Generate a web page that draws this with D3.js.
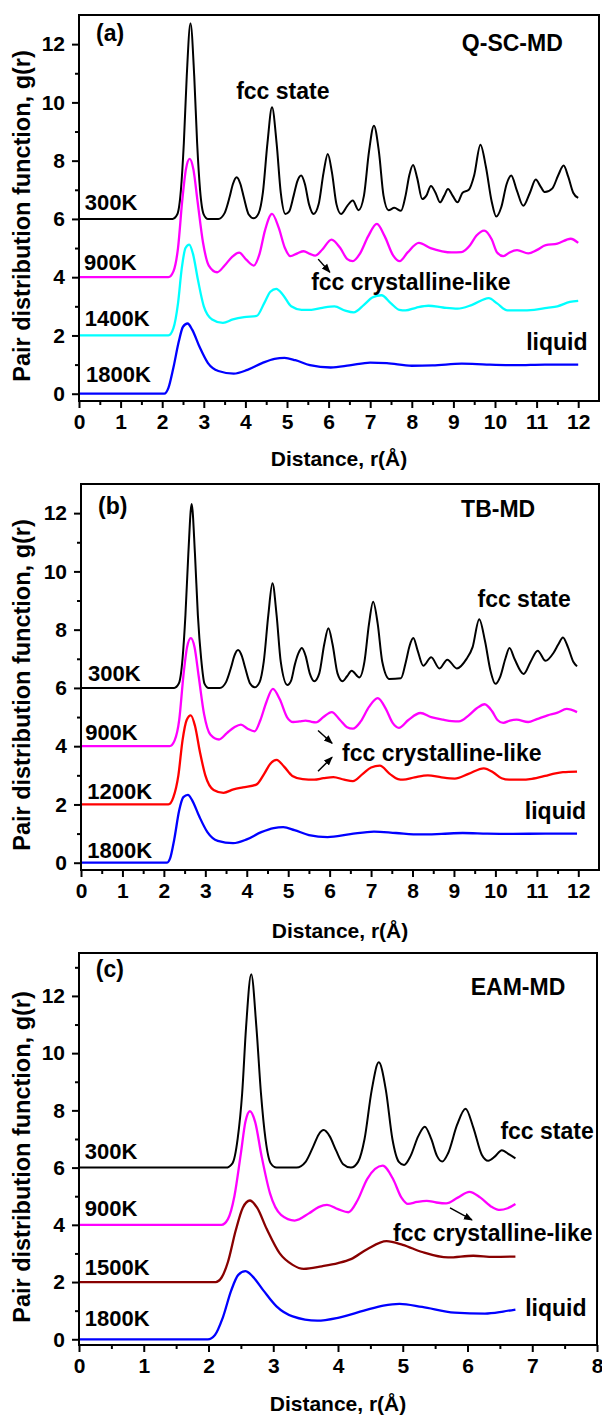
<!DOCTYPE html>
<html>
<head>
<meta charset="utf-8">
<script src="https://cdnjs.cloudflare.com/ajax/libs/d3/7.8.5/d3.min.js"></script>
<style>
  body { margin: 0; background: #fff; }
  text { font-family: "Liberation Sans", Arial, sans-serif; font-weight: bold; fill: #000; }
</style>
</head>
<body>
<script>
  // ---- data: [r (Angstrom), g(r) as plotted incl. offset] ----
  var a300 = [[0,6],[2.25,6],[2.36,6.15],[2.45,7.0],[2.52,8.6],[2.59,10.9],[2.68,12.72],[2.77,10.9],[2.84,8.6],[2.91,7.0],[3.0,6.15],[3.1,6.0],[3.35,6.0],[3.5,6.2],[3.62,6.75],[3.7,7.2],[3.79,7.43],[3.88,7.2],[3.96,6.75],[4.08,6.15],[4.2,6.02],[4.32,6.2],[4.42,6.9],[4.53,8.6],[4.64,9.83],[4.75,8.6],[4.85,6.9],[4.96,6.17],[5.05,6.25],[5.16,6.8],[5.25,7.3],[5.34,7.49],[5.43,7.2],[5.53,6.5],[5.64,6.17],[5.76,6.5],[5.88,7.6],[5.98,8.23],[6.08,7.6],[6.19,6.5],[6.3,6.17],[6.45,6.45],[6.58,6.63],[6.72,6.3],[6.85,6.8],[6.97,8.3],[7.09,9.2],[7.21,8.3],[7.32,6.8],[7.44,6.3],[7.58,6.38],[7.74,6.28],[7.85,6.8],[7.94,7.5],[8.03,7.85],[8.13,7.4],[8.25,6.68],[8.35,6.8],[8.46,7.13],[8.57,6.9],[8.68,6.57],[8.78,6.8],[8.87,7.03],[8.98,6.8],[9.1,6.57],[9.22,6.9],[9.37,7.0],[9.5,7.5],[9.65,8.55],[9.78,7.8],[9.92,6.6],[10.03,6.08],[10.15,6.4],[10.28,7.2],[10.39,7.49],[10.52,7.0],[10.68,6.45],[10.84,6.9],[10.98,7.35],[11.1,7.1],[11.2,6.92],[11.38,7.05],[11.52,7.5],[11.65,7.83],[11.76,7.45],[11.88,6.9],[12.0,6.72]];
  var a900 = [[0,4],[2.15,4],[2.27,4.2],[2.38,5.0],[2.48,6.6],[2.57,7.7],[2.66,8.06],[2.75,7.7],[2.85,6.6],[2.98,5.2],[3.12,4.4],[3.32,4.17],[3.5,4.4],[3.68,4.7],[3.85,4.84],[4.02,4.6],[4.2,4.4],[4.34,4.8],[4.47,5.6],[4.64,6.17],[4.8,5.7],[4.95,5.0],[5.08,4.72],[5.25,4.82],[5.4,4.89],[5.55,4.8],[5.68,4.74],[5.85,4.95],[6.07,5.29],[6.28,5.0],[6.45,4.62],[6.58,4.55],[6.75,4.8],[6.95,5.4],[7.16,5.83],[7.35,5.4],[7.55,4.75],[7.71,4.55],[7.9,4.85],[8.17,5.18],[8.45,5.0],[8.73,4.89],[8.95,4.85],[9.19,4.86],[9.4,5.1],[9.55,5.42],[9.74,5.6],[9.92,5.3],[10.05,4.85],[10.2,4.72],[10.35,4.85],[10.53,4.93],[10.8,4.82],[11.0,4.93],[11.22,5.1],[11.5,5.15],[11.82,5.32],[12.0,5.18]];
  var a1400 = [[0,2],[2.15,2],[2.27,2.25],[2.38,3.1],[2.47,4.3],[2.56,5.0],[2.65,5.12],[2.74,4.8],[2.86,3.9],[3.0,3.0],[3.2,2.55],[3.46,2.43],[3.7,2.55],[3.97,2.63],[4.27,2.67],[4.45,3.1],[4.6,3.5],[4.74,3.6],[4.9,3.4],[5.1,3.0],[5.35,2.88],[5.59,2.88],[5.85,2.95],[6.14,3.0],[6.4,2.85],[6.6,2.79],[6.85,3.05],[7.05,3.3],[7.27,3.38],[7.5,3.1],[7.7,2.88],[7.85,2.86],[8.1,2.95],[8.4,3.02],[8.75,2.96],[9.1,2.92],[9.45,3.05],[9.85,3.28],[10.05,3.1],[10.3,2.86],[10.6,2.86],[10.94,2.88],[11.25,2.95],[11.5,3.0],[11.8,3.15],[12.0,3.19]];
  var a1800 = [[0,0],[2.05,0],[2.15,0.2],[2.27,0.9],[2.4,1.8],[2.5,2.3],[2.61,2.41],[2.72,2.2],[2.9,1.6],[3.1,1.05],[3.35,0.78],[3.72,0.69],[4.05,0.82],[4.4,1.05],[4.7,1.2],[4.94,1.23],[5.2,1.15],[5.55,0.98],[6.05,0.9],[6.5,0.97],[7.0,1.07],[7.4,1.05],[8.0,0.96],[8.5,0.97],[9.2,1.03],[9.8,1.0],[10.5,0.98],[11.2,1.0],[12.0,1.0]];

  var b300 = [[0,6],[2.25,6],[2.36,6.15],[2.45,7.0],[2.52,8.5],[2.59,10.6],[2.67,12.31],[2.75,10.6],[2.82,8.5],[2.9,7.0],[2.98,6.15],[3.08,6.0],[3.35,6.0],[3.5,6.2],[3.62,6.7],[3.7,7.1],[3.79,7.3],[3.88,7.1],[3.96,6.7],[4.08,6.15],[4.19,6.02],[4.31,6.2],[4.41,6.9],[4.52,8.5],[4.62,9.59],[4.72,8.5],[4.82,6.9],[4.98,6.1],[5.07,6.25],[5.16,6.8],[5.25,7.2],[5.33,7.37],[5.42,7.1],[5.52,6.5],[5.63,6.23],[5.75,6.5],[5.87,7.5],[5.97,8.05],[6.07,7.5],[6.19,6.5],[6.31,6.23],[6.42,6.4],[6.53,6.59],[6.72,6.36],[6.84,6.9],[6.95,8.2],[7.05,8.96],[7.16,8.2],[7.27,6.9],[7.44,6.31],[7.72,6.33],[7.84,6.9],[7.93,7.45],[8.02,7.71],[8.12,7.3],[8.26,6.76],[8.45,7.05],[8.65,6.67],[8.84,6.97],[9.07,6.67],[9.3,6.99],[9.45,7.4],[9.61,8.36],[9.75,7.6],[9.88,6.6],[10.0,6.14],[10.12,6.4],[10.24,7.0],[10.34,7.37],[10.46,7.0],[10.68,6.48],[10.85,6.9],[11.02,7.28],[11.21,6.93],[11.4,7.2],[11.52,7.5],[11.63,7.73],[11.75,7.4],[11.88,6.9],[11.97,6.74]];
  var b900 = [[0,4],[2.14,4],[2.26,4.2],[2.37,4.9],[2.47,6.4],[2.56,7.4],[2.65,7.71],[2.74,7.4],[2.84,6.4],[2.97,5.1],[3.12,4.4],[3.33,4.23],[3.52,4.45],[3.7,4.65],[3.86,4.74],[4.02,4.6],[4.19,4.51],[4.33,4.9],[4.47,5.5],[4.63,5.97],[4.8,5.6],[4.97,5.0],[5.12,4.83],[5.27,4.85],[5.42,4.88],[5.55,4.84],[5.67,4.82],[5.85,5.0],[6.05,5.17],[6.25,4.9],[6.42,4.65],[6.56,4.6],[6.75,4.85],[6.95,5.35],[7.16,5.65],[7.35,5.3],[7.52,4.8],[7.67,4.63],[7.9,4.9],[8.19,5.14],[8.45,5.0],[8.74,4.91],[8.95,4.86],[9.12,4.85],[9.35,5.05],[9.55,5.3],[9.74,5.44],[9.92,5.2],[10.05,4.9],[10.19,4.8],[10.35,4.88],[10.51,4.91],[10.79,4.83],[11.0,4.93],[11.26,5.06],[11.5,5.15],[11.72,5.28],[11.97,5.17]];
  var b1200 = [[0,2],[2.11,2],[2.23,2.25],[2.35,3.0],[2.45,4.2],[2.55,4.9],[2.65,5.06],[2.75,4.7],[2.87,3.8],[3.0,3.0],[3.2,2.5],[3.44,2.4],[3.68,2.52],[3.91,2.59],[4.23,2.68],[4.42,3.05],[4.57,3.4],[4.72,3.53],[4.9,3.3],[5.1,2.98],[5.35,2.87],[5.63,2.85],[5.85,2.9],[6.09,2.94],[6.35,2.85],[6.56,2.8],[6.8,3.05],[7.0,3.27],[7.21,3.33],[7.45,3.05],[7.65,2.87],[7.77,2.85],[8.05,2.93],[8.37,3.0],[8.7,2.93],[9.02,2.89],[9.35,3.05],[9.72,3.24],[9.95,3.1],[10.15,2.9],[10.33,2.85],[10.6,2.85],[10.88,2.88],[11.2,2.98],[11.45,3.07],[11.63,3.11],[11.97,3.13]];
  var b1800 = [[0,0],[2.07,0],[2.15,0.15],[2.25,0.8],[2.37,1.8],[2.47,2.25],[2.58,2.33],[2.68,2.15],[2.85,1.6],[3.05,1.05],[3.3,0.75],[3.67,0.67],[4.0,0.8],[4.35,1.05],[4.65,1.19],[4.88,1.22],[5.15,1.12],[5.5,0.95],[5.95,0.88],[6.5,0.98],[7.07,1.07],[7.6,1.02],[8.19,0.97],[8.7,0.99],[9.21,1.02],[9.8,1.0],[10.42,0.99],[11.2,1.0],[11.97,1.0]];

  var c300 = [[0,6],[2.27,6],[2.37,6.15],[2.45,7.0],[2.52,8.6],[2.58,10.9],[2.66,12.76],[2.74,10.9],[2.81,8.6],[2.88,7.0],[2.96,6.15],[3.05,6.0],[3.36,6.0],[3.5,6.2],[3.62,6.75],[3.7,7.15],[3.78,7.31],[3.87,7.1],[3.97,6.6],[4.08,6.12],[4.2,6.0],[4.31,6.2],[4.41,7.0],[4.52,8.7],[4.63,9.68],[4.74,8.7],[4.84,7.0],[4.94,6.2],[5.02,6.09],[5.12,6.4],[5.24,7.1],[5.34,7.43],[5.44,7.0],[5.53,6.4],[5.61,6.21],[5.7,6.5],[5.84,7.5],[5.97,8.06],[6.09,7.4],[6.22,6.45],[6.32,6.24],[6.43,6.4],[6.53,6.61],[6.65,6.45],[6.74,6.32]];
  var c900 = [[0,4],[2.2,4],[2.3,4.2],[2.4,5.0],[2.5,6.5],[2.57,7.6],[2.64,7.97],[2.72,7.6],[2.82,6.4],[2.95,5.1],[3.12,4.35],[3.33,4.15],[3.55,4.4],[3.7,4.62],[3.83,4.7],[4.0,4.55],[4.16,4.44],[4.3,4.85],[4.45,5.6],[4.69,6.07],[4.85,5.6],[4.98,4.95],[5.08,4.73],[5.22,4.8],[5.37,4.84],[5.52,4.78],[5.67,4.75],[5.85,4.95],[6.03,5.15],[6.2,4.95],[6.38,4.62],[6.5,4.52],[6.62,4.58],[6.74,4.73]];
  var c1500 = [[0,2],[2.11,2],[2.2,2.15],[2.3,2.7],[2.42,3.8],[2.53,4.6],[2.64,4.85],[2.75,4.6],[2.9,3.85],[3.1,3.0],[3.3,2.6],[3.47,2.46],[3.75,2.55],[4.0,2.66],[4.2,2.8],[4.45,3.15],[4.75,3.43],[5.0,3.3],[5.3,3.05],[5.7,2.86],[6.09,2.92],[6.4,2.88],[6.74,2.89]];
  var c1800 = [[0,0],[1.99,0],[2.1,0.15],[2.22,0.75],[2.35,1.7],[2.46,2.25],[2.57,2.38],[2.68,2.2],[2.85,1.7],[3.05,1.15],[3.3,0.8],[3.68,0.65],[4.0,0.75],[4.4,1.0],[4.7,1.18],[4.95,1.24],[5.3,1.13],[5.8,0.93],[6.27,0.9],[6.55,0.97],[6.74,1.04]];

  var xTicks12 = [0,1,2,3,4,5,6,7,8,9,10,11,12];
  var xTicks8 = [0,1,2,3,4,5,6,7,8];
  var yTicks = [0,2,4,6,8,10,12];
  var tempsA = ["300K","900K","1400K","1800K"];
  var tempsB = ["300K","900K","1200K","1800K"];
  var tempsC = ["300K","900K","1500K","1800K"];

  // ---- layout ----
  var svg = d3.select('body')
    .append('svg')
    .attr('width', 602)
    .attr('height', 1418);

  var defs = svg.append('defs');
  defs.append('marker')
    .attr('id', 'arrow')
    .attr('viewBox', '0 0 10 10')
    .attr('refX', 9).attr('refY', 5)
    .attr('markerWidth', 6).attr('markerHeight', 6)
    .attr('orient', 'auto')
    .append('path')
    .attr('d', 'M0,1 L10,5 L0,9 z')
    .attr('fill', '#000');

  var panels = [
    {
      left: 79, right: 599, top: 15, bottom: 401, xMax: 12.5, yMin: -0.25, yMax: 13,
      xTicks: xTicks12, titleY: 458,
      series: [a300, a900, a1400, a1800], temps: tempsA,
      colors: ["#000000", "#ff00ff", "#00ffff", "#0000ff"],
      tempPos: [[0.14, 6.58], [0.12, 4.52], [0.14, 2.6], [0.17, 0.66]],
      tag: ["(a)", 0.41, 12.38], method: ["Q-SC-MD", 11.63, 12.04],
      fcc: ["fcc state", 4.9, 10.39, "middle"],
      liquid: [10.75, 1.77], like: [5.58, 3.83],
      arrows: [[5.75, 4.62, 6.03, 4.17]]
    },
    {
      left: 81, right: 599, top: 484, bottom: 870, xMax: 12.5, yMin: -0.25, yMax: 13,
      xTicks: xTicks12, titleY: 930,
      series: [b300, b900, b1200, b1800], temps: tempsB,
      colors: ["#000000", "#ff00ff", "#ff0000", "#0000ff"],
      tempPos: [[0.17, 6.5], [0.1, 4.48], [0.15, 2.46], [0.15, 0.42]],
      tag: ["(b)", 0.41, 12.25], method: ["TB-MD", 10.96, 12.15],
      fcc: ["fcc state", 11.82, 9.07, "end"],
      liquid: [10.71, 1.8], like: [6.3, 3.79],
      arrows: [[5.72, 4.54, 6.06, 4.1], [5.72, 3.14, 6.06, 3.62]]
    },
    {
      left: 79, right: 597, top: 953, bottom: 1345, xMax: 8, yMin: -0.2, yMax: 13.5,
      xTicks: xTicks8, titleY: 1403,
      series: [c300, c900, c1500, c1800], temps: tempsC,
      colors: ["#000000", "#ff00ff", "#880000", "#0000ff"],
      tempPos: [[0.09, 6.58], [0.09, 4.59], [0.09, 2.53], [0.09, 0.74]],
      tag: ["(c)", 0.26, 12.95], method: ["EAM-MD", 7.51, 12.32],
      fcc: ["fcc state", 7.95, 7.28, "end"],
      liquid: [6.89, 1.09], like: [4.85, 3.72],
      arrows: [[5.73, 4.59, 6.07, 4.17]]
    }
  ];

  panels.forEach(function(p) {
    var x = d3.scaleLinear().domain([0, p.xMax]).range([p.left, p.right]);
    var y = d3.scaleLinear().domain([p.yMin, p.yMax]).range([p.bottom, p.top]);
    var g = svg.append('g');

    var minorX = p.xTicks.slice(0, -1).map(function(d) { return d + 0.5; });
    var minorY = yTicks.map(function(d) { return d + 1; }).filter(function(d) { return d < p.yMax; });

    // minor ticks
    g.append('g')
      .attr('transform', 'translate(0,' + p.bottom + ')')
      .call(d3.axisBottom(x).tickValues(minorX).tickSize(4).tickFormat(''))
      .call(function(s) { s.select('.domain').remove(); });
    g.append('g')
      .attr('transform', 'translate(' + p.left + ',0)')
      .call(d3.axisLeft(y).tickValues(minorY).tickSize(4).tickFormat(''))
      .call(function(s) { s.select('.domain').remove(); });

    // major ticks
    g.append('g')
      .attr('transform', 'translate(0,' + p.bottom + ')')
      .call(d3.axisBottom(x).tickValues(p.xTicks).tickSize(7).tickPadding(6).tickFormat(d3.format('d')));
    g.append('g')
      .attr('transform', 'translate(' + p.left + ',0)')
      .call(d3.axisLeft(y).tickValues(yTicks).tickSize(7).tickPadding(7).tickFormat(d3.format('d')));

    g.selectAll('.domain').remove();
    g.selectAll('.tick line').attr('stroke', '#000').attr('stroke-width', 2);
    g.selectAll('.tick text')
      .attr('fill', '#000')
      .style('font-family', '"Liberation Sans", Arial, sans-serif')
      .style('font-weight', 'bold')
      .style('font-size', '21px');

    // curves
    var line = d3.line()
      .x(function(d) { return x(d[0]); })
      .y(function(d) { return y(d[1]); })
      .curve(d3.curveMonotoneX);

    g.selectAll('path.gr')
      .data(p.series)
      .enter().append('path')
      .attr('class', 'gr')
      .attr('d', line)
      .attr('fill', 'none')
      .attr('stroke', function(d, i) { return p.colors[i]; })
      .attr('stroke-width', function(d, i) { return i === 0 ? 2 : 2.3; })
      .attr('stroke-linejoin', 'round');

    // frame
    g.append('rect')
      .attr('x', p.left).attr('y', p.top)
      .attr('width', p.right - p.left).attr('height', p.bottom - p.top)
      .attr('fill', 'none').attr('stroke', '#000').attr('stroke-width', 2);

    // temperature labels
    g.selectAll('text.temp')
      .data(p.temps)
      .enter().append('text')
      .attr('class', 'temp')
      .attr('x', function(d, i) { return x(p.tempPos[i][0]); })
      .attr('y', function(d, i) { return y(p.tempPos[i][1]); })
      .attr('dy', '0.36em')
      .style('font-size', '22px')
      .text(function(d) { return d; });

    function label(txt, px, py, anchor) {
      g.append('text')
        .attr('x', x(px)).attr('y', y(py))
        .attr('dy', '0.36em')
        .attr('text-anchor', anchor || 'start')
        .style('font-size', '23px')
        .text(txt);
    }
    label(p.tag[0], p.tag[1], p.tag[2]);
    label(p.method[0], p.method[1], p.method[2], 'end');
    label(p.fcc[0], p.fcc[1], p.fcc[2], p.fcc[3]);
    label('liquid', p.liquid[0], p.liquid[1]);
    label('fcc crystalline-like', p.like[0], p.like[1]);

    p.arrows.forEach(function(a) {
      g.append('line')
        .attr('x1', x(a[0])).attr('y1', y(a[1]))
        .attr('x2', x(a[2])).attr('y2', y(a[3]))
        .attr('stroke', '#000').attr('stroke-width', 1.5)
        .attr('marker-end', 'url(#arrow)');
    });

    // axis titles
    g.append('text')
      .attr('x', (p.left + p.right) / 2).attr('y', p.titleY)
      .attr('dy', '0.36em')
      .attr('text-anchor', 'middle')
      .style('font-size', '21px')
      .text('Distance, r(\u00c5)');
    g.append('text')
      .attr('transform', 'translate(22,' + ((p.top + p.bottom) / 2 + 8) + ') rotate(-90)')
      .attr('dy', '0.36em')
      .attr('text-anchor', 'middle')
      .style('font-size', '23.5px')
      .text('Pair distribution function, g(r)');
  });
</script>
</body>
</html>
